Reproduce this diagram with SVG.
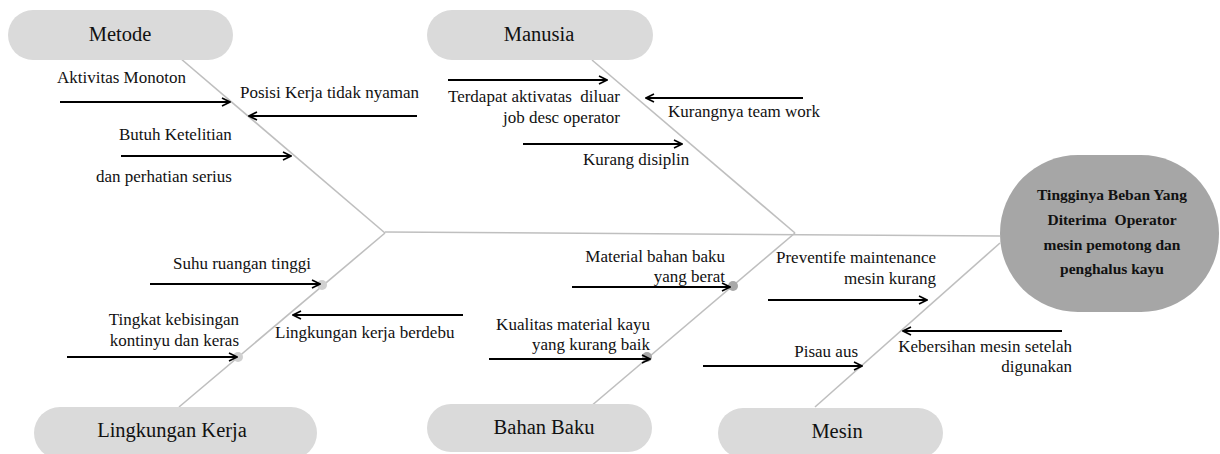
<svg xmlns="http://www.w3.org/2000/svg" width="1220" height="454" viewBox="0 0 1220 454">
<style>
.pill{fill:#dadada;}
.head{fill:#a6a6a6;}
.title{font-family:"Liberation Serif",serif;font-size:20.5px;fill:#111;text-anchor:middle;}
.cause{font-family:"Liberation Serif",serif;font-size:17px;fill:#111;}
.r{text-anchor:end;}
.htxt{font-family:"Liberation Serif",serif;font-size:15.5px;font-weight:bold;fill:#111;text-anchor:middle;}
.bone{stroke:#bfbfbf;stroke-width:1.6;fill:none;}
.arr{stroke:#000;stroke-width:2;fill:none;marker-end:url(#ah);}
.dot1{fill:#d0d0d0;}
.dot2{fill:#a8a8a8;}
</style>
<defs>
<marker id="ah" viewBox="0 0 10 10" refX="9" refY="5" markerWidth="5" markerHeight="5" orient="auto" markerUnits="strokeWidth">
<path d="M1,1 L9,5 L1,9" fill="none" stroke="#000" stroke-width="1.6"/>
</marker>
</defs>
<rect width="1220" height="454" fill="#fff"/>

<g id="connectors">
<path class="bone" d="M385,232 L1000,236"/>
<path class="bone" d="M180,58 L385,233"/>
<path class="bone" d="M592,60 L795,233"/>
<path class="bone" d="M385,233 L179,407"/>
<path class="bone" d="M795,233 L590,407"/>
<path class="bone" d="M1000,243 L815,407"/>
<circle class="dot1" cx="322" cy="285" r="5"/>
<circle class="dot1" cx="238" cy="357" r="5"/>
<circle class="dot2" cx="733" cy="286" r="5"/>
<circle class="dot2" cx="647" cy="357" r="5"/>
<path class="arr" d="M60,102 L230,102"/>
<path class="arr" d="M417,116 L249,116"/>
<path class="arr" d="M121,156 L291,156"/>
<path class="arr" d="M448,80 L607,80"/>
<path class="arr" d="M803,98 L646,98"/>
<path class="arr" d="M523,144 L682,144"/>
<path class="arr" d="M150,284 L320,284"/>
<path class="arr" d="M67,357 L237,357"/>
<path class="arr" d="M463,315 L293,315"/>
<path class="arr" d="M572,287 L730,287"/>
<path class="arr" d="M489,359 L650,359"/>
<path class="arr" d="M768,300 L927,300"/>
<path class="arr" d="M1062,331 L903,331"/>
<path class="arr" d="M703,366 L862,366"/>
</g>

<g id="metode">
<rect class="pill" x="8" y="10" width="225" height="50" rx="25"/>
<text class="title" x="120" y="41">Metode</text>
</g>
<g id="manusia">
<rect class="pill" x="427" y="10" width="226" height="50" rx="25"/>
<text class="title" x="539" y="41">Manusia</text>
</g>
<g id="lingkungan">
<rect class="pill" x="34" y="407" width="283" height="52" rx="26"/>
<text class="title" x="172" y="437">Lingkungan Kerja</text>
</g>
<g id="bahanbaku">
<rect class="pill" x="427" y="404" width="225" height="48" rx="24"/>
<text class="title" x="544" y="434">Bahan Baku</text>
</g>
<g id="mesin">
<rect class="pill" x="718" y="408" width="225" height="50" rx="25"/>
<text class="title" x="837" y="438">Mesin</text>
</g>
<g id="effect">
<rect class="head" x="1000" y="155" width="219" height="157" rx="78"/>
<text class="htxt" x="1112" y="200">Tingginya Beban Yang</text>
<text class="htxt" x="1112" y="225" xml:space="preserve">Diterima  Operator</text>
<text class="htxt" x="1112" y="250">mesin pemotong dan</text>
<text class="htxt" x="1112" y="274">penghalus kayu</text>
</g>

<g id="causes-metode">
<text class="cause" x="57" y="83">Aktivitas Monoton</text>
<text class="cause" x="240" y="98">Posisi Kerja tidak nyaman</text>
<text class="cause" x="119" y="140">Butuh Ketelitian</text>
<text class="cause" x="96" y="182">dan perhatian serius</text>
</g>
<g id="causes-manusia">
<text class="cause r" x="620" y="102" xml:space="preserve">Terdapat aktivatas  diluar</text>
<text class="cause r" x="620" y="123">job desc operator</text>
<text class="cause" x="668" y="117">Kurangnya team work</text>
<text class="cause" x="583" y="165">Kurang disiplin</text>
</g>
<g id="causes-lingkungan">
<text class="cause" x="173" y="269">Suhu ruangan tinggi</text>
<text class="cause r" x="239" y="325">Tingkat kebisingan</text>
<text class="cause r" x="239" y="346">kontinyu dan keras</text>
<text class="cause" x="275" y="338">Lingkungan kerja berdebu</text>
</g>
<g id="causes-bahan">
<text class="cause r" x="725" y="262">Material bahan baku</text>
<text class="cause r" x="725" y="282">yang berat</text>
<text class="cause r" x="650" y="330">Kualitas material kayu</text>
<text class="cause r" x="650" y="350">yang kurang baik</text>
</g>
<g id="causes-mesin">
<text class="cause r" x="936" y="263">Preventife maintenance</text>
<text class="cause r" x="936" y="284">mesin kurang</text>
<text class="cause r" x="858" y="357">Pisau aus</text>
<text class="cause r" x="1072" y="352">Kebersihan mesin setelah</text>
<text class="cause r" x="1072" y="372">digunakan</text>
</g>
</svg>
